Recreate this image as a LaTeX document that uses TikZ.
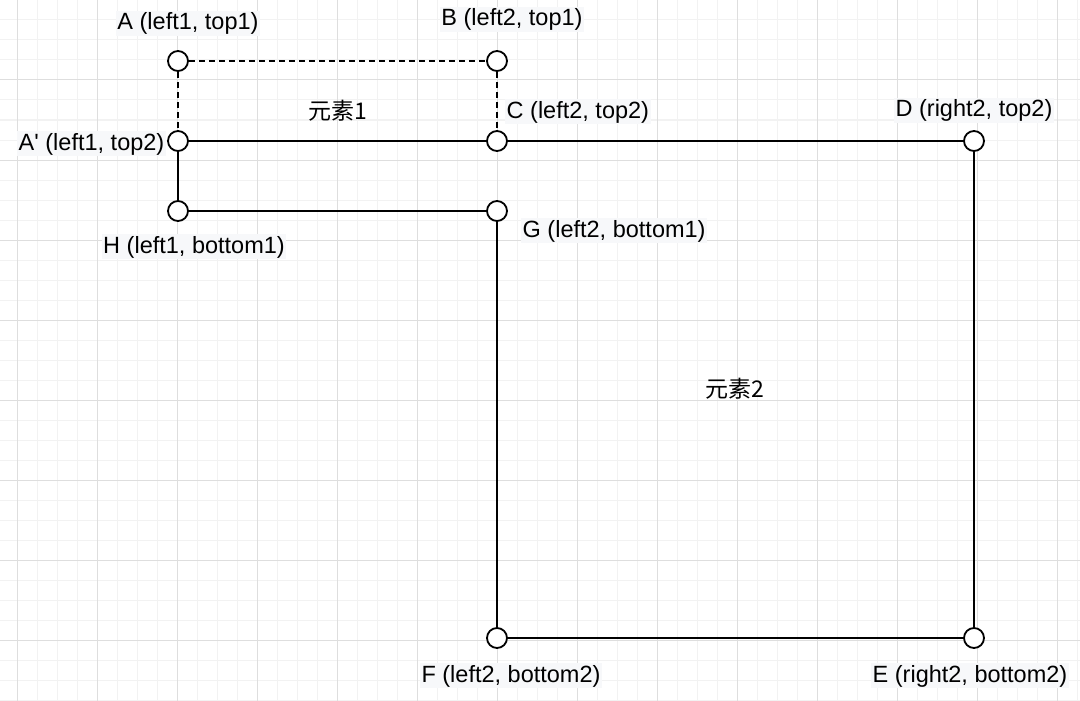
\documentclass[tikz,border=0pt]{standalone}
\usepackage{fontspec}
\setmainfont{Liberation Sans}
\newfontfamily\cjk{Noto Sans CJK SC}
\definecolor{minorgrid}{RGB}{242,242,242}
\definecolor{majorgrid}{RGB}{222,222,222}
\definecolor{labelbg}{RGB}{247,248,250}
\newcommand{\straightquote}{\XeTeXglyph\XeTeXcharglyph"0027\relax}
\begin{document}
\begin{tikzpicture}[x=1pt,y=-1pt,
  pt/.style={circle,draw,line width=1.8pt,fill=white,minimum size=20pt,inner sep=0pt},
  conn/.style={line width=1.8pt},
  dconn/.style={line width=1.6pt,dash pattern=on 6pt off 4pt},
  lbl/.style={font=\fontsize{23.5}{28}\selectfont,fill=labelbg,inner sep=1.5pt,anchor=base},
  elbl/.style={font=\fontsize{23}{28}\selectfont\cjk,inner sep=0pt,anchor=base}]
\useasboundingbox (0,0) rectangle (1080,701);
\fill[white] (0,0) rectangle (1080,701);
% grid
\foreach \x in {17,37,...,1077} \draw[minorgrid,line width=1pt] (\x,0) -- (\x,701);
\foreach \y in {20,40,...,700} \draw[minorgrid,line width=1pt] (0,\y) -- (1080,\y);
\foreach \x in {17,97,...,1057} \draw[majorgrid,line width=1pt] (\x,0) -- (\x,701);
\foreach \y in {0,80,...,640} \draw[majorgrid,line width=1pt] (0,\y) -- (1080,\y);
% points
\node[pt] (A) at (178,61) {};
\node[pt] (B) at (497,61) {};
\node[pt] (Ap) at (178,141) {};
\node[pt] (C) at (497,141) {};
\node[pt] (D) at (974,141) {};
\node[pt] (H) at (178,211) {};
\node[pt] (G) at (497,211) {};
\node[pt] (F) at (497,638) {};
\node[pt] (E) at (974,638) {};
% connectors
\draw[dconn] (A) -- (B);
\draw[dconn] (A) -- (Ap);
\draw[dconn] (B) -- (C);
\draw[conn] (Ap) -- (C);
\draw[conn] (C) -- (D);
\draw[conn] (Ap) -- (H);
\draw[conn] (H) -- (G);
\draw[conn] (G) -- (F);
\draw[conn] (F) -- (E);
\draw[conn] (D) -- (E);
% labels
\node[lbl] (lA) at (188,30) {A (left1, top1)};
\node[lbl] (lB) at (512,26) {B (left2, top1)};
\node[lbl,anchor=base west] (lC) at (505,118) {C (left2, top2)};
\node[lbl] (lD) at (974,117) {D (right2, top2)};
\node[lbl,anchor=base east] (lAp) at (166,150) {A\straightquote{} (left1, top2)};
\node[lbl] (lH) at (194,253) {H (left1, bottom1)};
\node[lbl,anchor=base west] (lG) at (521,237) {G (left2, bottom1)};
\node[lbl] (lF) at (511,682) {F (left2, bottom2)};
\node[lbl] (lE) at (970,682) {E (right2, bottom2)};
\node[elbl] (e1) at (338,119) {元素1};
\node[elbl] (e2) at (735,397) {元素2};
\end{tikzpicture}
\end{document}
